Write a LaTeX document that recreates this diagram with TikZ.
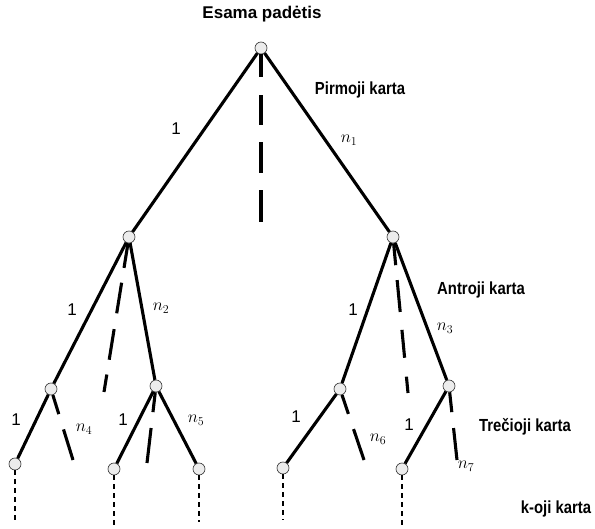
\documentclass[tikz,border=0pt]{standalone}
\usepackage{fontspec}
\setmainfont{Liberation Sans}
\newfontfamily\genfont[FakeStretch=0.85]{Liberation Sans Bold}
\begin{document}
\begin{tikzpicture}[x=1pt,y=-1pt,
  vert/.style={circle,draw=black!80,line width=0.6pt,fill=gray!15,minimum size=12pt,inner sep=0pt},
  edge/.style={line width=3.1pt},
  alt/.style={line width=3.1pt},
  short/.style={alt,dash pattern=on 20pt off 16pt on 60pt off 10pt},
  cont/.style={line width=2.8pt,dash pattern=on 5pt off 4pt},
  gen/.style={font=\fontsize{17.5}{20}\genfont},
  one/.style={font=\fontsize{17}{20}\selectfont},
  cnt/.style={font=\fontsize{18}{20}\selectfont}]
\useasboundingbox (0,0) rectangle (595,529);

% title
\node[font=\fontsize{17}{20}\selectfont\bfseries] (title) at (262,14) {Esama padėtis};

% tree vertices
\node[vert] (root) at (261,48) {};
\node[vert] (L)   at (129,237) {};
\node[vert] (R)   at (393,237) {};
\node[vert] (LL)  at (51,389) {};
\node[vert] (LR)  at (156,386) {};
\node[vert] (RL)  at (340,389) {};
\node[vert] (RR)  at (449,386) {};
\node[vert] (LLL) at (15,464) {};
\node[vert] (LRL) at (114,469) {};
\node[vert] (LRR) at (199,469) {};
\node[vert] (RLL) at (283,468) {};
\node[vert] (RRL) at (402,469) {};

% ends of the alternative (dashed) branches
\coordinate (dRoot) at (261,222);
\coordinate (dL)    at (104,392);
\coordinate (dR)    at (408,393);
\coordinate (dLL)   at (73,460);
\coordinate (dLR)   at (147,463);
\coordinate (dRL)   at (364,460);
\coordinate (dRR)   at (457,460);

% ends of the continuation (dotted) lines
\coordinate (cLLL) at (15,520);
\coordinate (cLRL) at (114,529);
\coordinate (cLRR) at (199,522);
\coordinate (cRLL) at (283,520);
\coordinate (cRRL) at (402,529);

% solid branches
\draw[edge] (root) -- (L);
\draw[edge] (root) -- (R);
\draw[edge] (L) -- (LL);
\draw[edge] (L) -- (LR);
\draw[edge] (R) -- (RL);
\draw[edge] (R) -- (RR);
\draw[edge] (LL) -- (LLL);
\draw[edge] (LR) -- (LRL);
\draw[edge] (LR) -- (LRR);
\draw[edge] (RL) -- (RLL);
\draw[edge] (RR) -- (RRL);

% dashed branches
\draw[alt,dash pattern=on 23pt off 18pt on 30pt off 17pt on 31pt off 17pt on 60pt off 10pt] (root) -- (dRoot);
\draw[alt,dash pattern=on 25pt off 15pt on 31pt off 16pt on 31pt off 15pt on 60pt off 10pt] (L) -- (dL);
\draw[alt,dash pattern=on 22pt off 15pt on 32pt off 18pt on 28pt off 19pt on 60pt off 10pt] (R) -- (dR);
\draw[short] (LL) -- (dLL);
\draw[short] (LR) -- (dLR);
\draw[short] (RL) -- (dRL);
\draw[short] (RR) -- (dRR);

% continuation lines
\draw[cont] (LLL) -- (cLLL);
\draw[cont] (LRL) -- (cLRL);
\draw[cont] (LRR) -- (cLRR);
\draw[cont] (RLL) -- (cRLL);
\draw[cont] (RRL) -- (cRRL);

% branch labels
\node[one] (o0) at (176,129) {1};
\node[cnt] (n1) at (349,140) {$n_1$};
\node[one] (o1) at (72,310) {1};
\node[cnt] (n2) at (161,308) {$n_2$};
\node[one] (o2) at (353,310) {1};
\node[cnt] (n3) at (445,328) {$n_3$};
\node[one] (o3) at (16,420) {1};
\node[cnt] (n4) at (84,429) {$n_4$};
\node[one] (o4) at (123,420) {1};
\node[cnt] (n5) at (196,420) {$n_5$};
\node[one] (o5) at (296,417) {1};
\node[cnt] (n6) at (378,439) {$n_6$};
\node[one] (o6) at (409,425) {1};
\node[cnt] (n7) at (466,466) {$n_7$};

% generation labels
\node[gen] (g1) at (360,90) {Pirmoji karta};
\node[gen] (g2) at (481,290) {Antroji karta};
\node[gen] (g3) at (525,427) {Trečioji karta};
\node[gen] (g4) at (556,509) {k-oji karta};
\end{tikzpicture}
\end{document}
